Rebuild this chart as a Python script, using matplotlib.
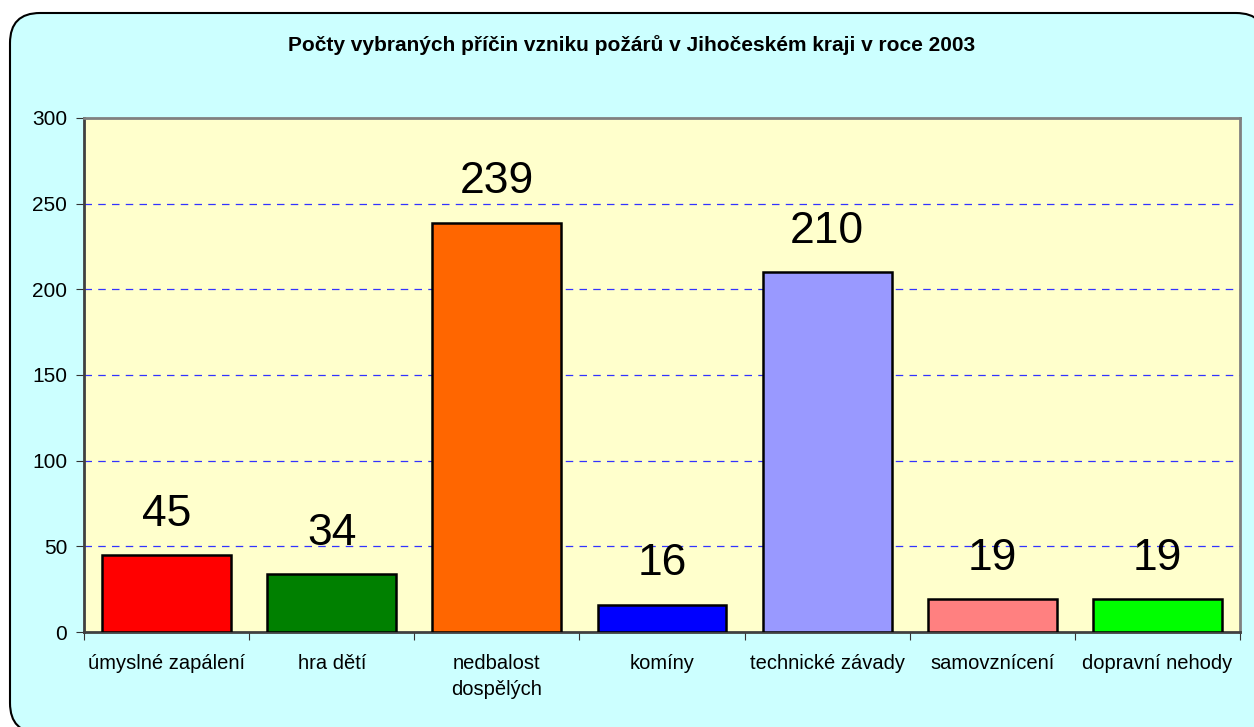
import matplotlib
matplotlib.use("Agg")
import matplotlib.pyplot as plt
from matplotlib.patches import FancyBboxPatch
from matplotlib.transforms import IdentityTransform

categories = ["úmyslné zapálení", "hra dětí", "nedbalost\ndospělých", "komíny",
              "technické závady", "samovznícení", "dopravní nehody"]
values = [45, 34, 239, 16, 210, 19, 19]
colors = ["#ff0000", "#008000", "#ff6600", "#0000ff", "#9999ff", "#ff8080", "#00ff00"]
yticks = [0, 50, 100, 150, 200, 250, 300]
title = "Počty vybraných příčin vzniku požárů v Jihočeském kraji v roce 2003"

plt.rcParams['font.family'] = ['Liberation Sans', 'DejaVu Sans']

W, H = 1254, 727
fig = plt.figure(figsize=(W / 100, H / 100), dpi=100)
fig.patch.set_facecolor("white")

# rounded background (pixel coordinates)
bx0, by0, bx1, by1 = 10, 13, 1266, 733
bg = FancyBboxPatch((bx0, H - by1), bx1 - bx0, by1 - by0,
                    boxstyle="round,pad=0,rounding_size=30",
                    transform=IdentityTransform(), facecolor="#ccffff",
                    edgecolor="black", linewidth=1.5, zorder=0)
fig.patches.append(bg)

left, right, top, bottom = 84, 1240, 118, 632
ax = fig.add_axes([left / W, (H - bottom) / H, (right - left) / W, (bottom - top) / H])
ax.set_facecolor("#ffffcc")
ax.set_zorder(1)

x = range(len(categories))
ax.bar(x, values, width=0.78, color=colors, edgecolor="black", linewidth=1.8, zorder=3)
for xi, v in zip(x, values):
    ax.text(xi, v + 17, str(v), ha="center", va="baseline", fontsize=32, zorder=4)

ax.set_xlim(-0.5, len(categories) - 0.5)
ax.set_ylim(0, 300)
ax.set_yticks(yticks)
ax.set_yticklabels([str(t) for t in yticks], fontsize=15)
ax.set_xticks([i - 0.5 for i in range(len(categories) + 1)], minor=False)
ax.set_xticklabels([])
ax.set_xticks(list(x), minor=True)
ax.set_xticklabels(categories, minor=True, fontsize=14.5, linespacing=1.45)
ax.tick_params(axis="x", which="minor", length=0, pad=16)
ax.tick_params(axis="x", which="major", length=6, direction="out", color="#333333")
ax.tick_params(axis="y", length=6, direction="out", color="#333333", pad=6)

for t in yticks[1:-1]:
    ax.axhline(t, color="#3333ff", linestyle=(0, (6, 5)), linewidth=0.9, zorder=1)

ax.spines["left"].set_color("#404040")
ax.spines["bottom"].set_color("#404040")
ax.spines["top"].set_color("#808080")
ax.spines["right"].set_color("#808080")
for s in ax.spines.values():
    s.set_linewidth(2)

fig.text(632 / W, 1 - 45 / H, title, ha="center", va="center", fontsize=15, fontweight="bold")

fig.savefig("out.png", dpi=100)
